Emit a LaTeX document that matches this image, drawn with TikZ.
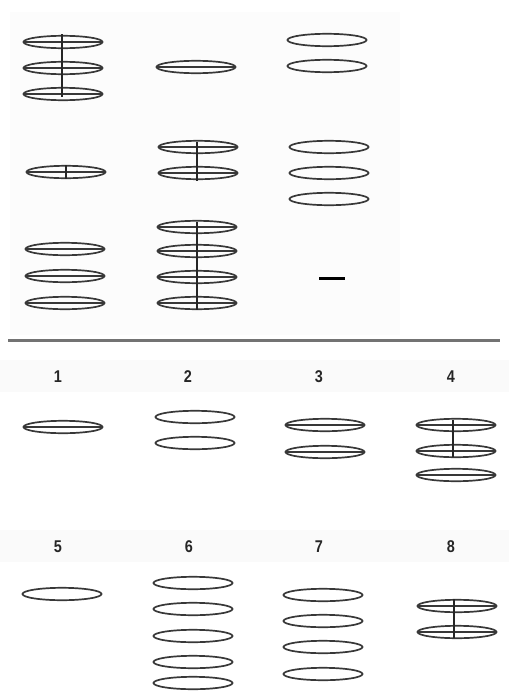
\documentclass[tikz,border=0pt]{standalone}
\usepackage{graphicx}
\usepackage{fontspec}
\setmainfont{Liberation Sans}
\newcommand{\lbltext}[1]{\scalebox{0.85}[1]{#1}}
\begin{document}
\begin{tikzpicture}[x=1pt,y=-1pt,
  ringline/.style={draw=black!78,line width=1.7pt},
  axisline/.style={draw=black!85,line width=1.5pt},
  lbl/.style={font=\fontsize{17}{19}\selectfont\bfseries,text=black!85,inner sep=0pt},
  plainring/.pic={\draw[ringline] (0,0) ellipse [x radius=39.5pt,y radius=6.2pt];},
  bandring/.pic={\draw[ringline] (0,0) ellipse [x radius=39.5pt,y radius=6.2pt];
                 \draw[ringline] (-39.5,0) -- (39.5,0);}
]
\useasboundingbox (0,0) rectangle (509,691);
\fill[white] (0,0) rectangle (509,691);
% faint panels
\fill[black!1] (10,12) rectangle (400,335);
\fill[black!2] (0,360) rectangle (509,392);
\fill[black!2] (0,530) rectangle (509,562);

% ---- top block, row 1
\foreach \y in {42,68,94} \pic at (63,\y) {bandring};
\draw[axisline] (62,34) -- (62,97);
\pic at (196,67) {bandring};
\foreach \y in {40,66} \pic at (327,\y) {plainring};

% ---- row 2
\pic at (66,172) {bandring};
\draw[axisline] (66,165) -- (66,179);
\foreach \y in {147,173} \pic at (198,\y) {bandring};
\draw[axisline] (197,142) -- (197,181);
\foreach \y in {147,173,199} \pic at (329,\y) {plainring};

% ---- row 3
\foreach \y in {249,276,303} \pic at (65,\y) {bandring};
\foreach \y in {227,251,277,303} \pic at (197,\y) {bandring};
\draw[axisline] (197,222) -- (197,310);
\draw[black,line width=3pt] (319,278) -- (345,278);

% ---- separator
\draw[black!55,line width=3pt] (8,340) -- (500,340);

% ---- answer labels
\node[lbl] (l1) at (58,377) {\lbltext{1}};
\node[lbl] (l2) at (188,377) {\lbltext{2}};
\node[lbl] (l3) at (319,377) {\lbltext{3}};
\node[lbl] (l4) at (451,377) {\lbltext{4}};
\node[lbl] (l5) at (58,547) {\lbltext{5}};
\node[lbl] (l6) at (189,547) {\lbltext{6}};
\node[lbl] (l7) at (319,547) {\lbltext{7}};
\node[lbl] (l8) at (451,547) {\lbltext{8}};

% ---- answers row 1
\pic at (63,427) {bandring};
\foreach \y in {417,443} \pic at (195,\y) {plainring};
\foreach \y in {425,452} \pic at (325,\y) {bandring};
\foreach \y in {425,451,475} \pic at (456,\y) {bandring};
\draw[axisline] (453,420) -- (453,457);

% ---- answers row 2
\pic at (62,594) {plainring};
\foreach \y in {583,609,636,662,683} \pic at (193,\y) {plainring};
\foreach \y in {595,621,647,674} \pic at (323,\y) {plainring};
\foreach \y in {606,632} \pic at (457,\y) {bandring};
\draw[axisline] (454,599) -- (454,638);
\end{tikzpicture}
\end{document}
